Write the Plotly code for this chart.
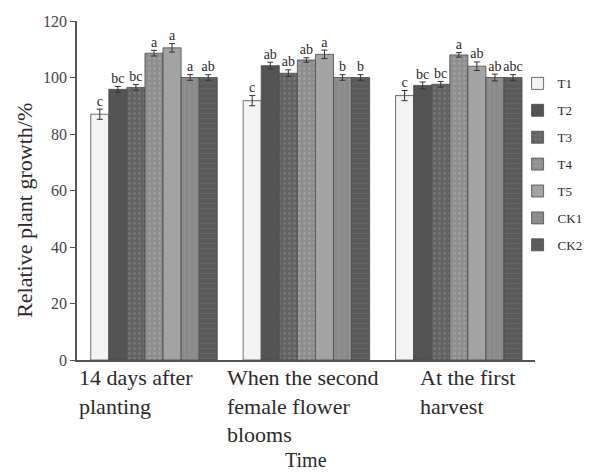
import plotly.graph_objects as go

# ---------------- data ----------------
categories = ["14 days after<br>planting",
              "When the second<br>female flower<br>blooms",
              "At the first<br>harvest"]
series_names = ["T1", "T2", "T3", "T4", "T5", "CK1", "CK2"]

T1 = [87.0, 91.8, 93.6]
T2 = [95.8, 104.2, 97.2]
T3 = [96.5, 101.5, 97.6]
T4 = [108.6, 106.2, 108.0]
T5 = [110.5, 108.2, 104.0]
CK1 = [100.0, 100.0, 100.0]
CK2 = [100.0, 100.0, 100.0]
values = [T1, T2, T3, T4, T5, CK1, CK2]

T1_err = [1.8, 1.8, 1.8]
T2_err = [1.0, 1.2, 1.2]
T3_err = [1.0, 1.2, 1.0]
T4_err = [1.0, 0.8, 0.8]
T5_err = [1.5, 1.5, 1.5]
CK1_err = [1.0, 1.0, 1.2]
CK2_err = [1.0, 1.0, 1.0]
errors = [T1_err, T2_err, T3_err, T4_err, T5_err, CK1_err, CK2_err]

T1_sig = ["c", "c", "c"]
T2_sig = ["bc", "ab", "bc"]
T3_sig = ["bc", "ab", "bc"]
T4_sig = ["a", "ab", "a"]
T5_sig = ["a", "a", "ab"]
CK1_sig = ["a", "b", "ab"]
CK2_sig = ["ab", "b", "abc"]
letters = [T1_sig, T2_sig, T3_sig, T4_sig, T5_sig, CK1_sig, CK2_sig]

y_ticks = [0, 20, 40, 60, 80, 100, 120]

# ---------------- style ----------------
fills = ["#f3f3f3", "#545454", "#636363", "#8e8e8e", "#a3a3a3", "#8a8a8a", "#5a5a5a"]
patterns = ["", "", ".", ".", "", "|", "-"]
pattern_fg = ["#ffffff", "#444444", "#888888", "#b0b0b0", "#b5b5b5", "#9a9a9a", "#707070"]
FONT = "Liberation Serif"
TXT = "#2a2a2a"

fig = go.Figure()
for i, name in enumerate(series_names):
    fig.add_trace(go.Bar(
        x=categories, y=values[i], name=name,
        offsetgroup=str(i), legendgroup=str(i),
        marker=dict(color=fills[i], line=dict(color="#4a4a4a", width=0.8),
                    pattern=dict(shape=patterns[i], fgcolor=pattern_fg[i],
                                 size=5, solidity=0.25)),
        error_y=dict(type="data", array=errors[i], color="#333333",
                     thickness=1, width=3),
    ))
for i, name in enumerate(series_names):
    fig.add_trace(go.Scatter(
        x=categories, y=[v + e for v, e in zip(values[i], errors[i])],
        mode="text", text=letters[i], textposition="top center",
        textfont=dict(family=FONT, size=14, color=TXT),
        offsetgroup=str(i), showlegend=False, hoverinfo="skip",
    ))

# category labels (left-aligned multi-line blocks under each group)
label_shift = [-18, -3, 9]
for i, c in enumerate(categories):
    fig.add_annotation(x=c, xref="x", y=0, yref="paper", yanchor="top",
                       xanchor="center", align="left", yshift=-3,
                       xshift=label_shift[i], text=c, showarrow=False,
                       font=dict(family=FONT, size=22, color=TXT))
fig.add_annotation(x=0.5, xref="paper", y=0, yref="paper", yanchor="middle",
                   yshift=-100, text="Time", showarrow=False,
                   font=dict(family=FONT, size=20, color=TXT))
fig.add_annotation(x=0, xref="paper", xanchor="center", xshift=-52,
                   y=0.44, yref="paper", yanchor="middle", textangle=-90,
                   text="Relative plant growth/%", showarrow=False,
                   font=dict(family=FONT, size=22, color=TXT))

fig.update_layout(
    width=590, height=473,
    margin=dict(l=77, r=55, t=21, b=113, autoexpand=False),
    paper_bgcolor="white", plot_bgcolor="white",
    barmode="group", bargap=0.17, bargroupgap=0.0,
    scattermode="group", scattergap=0.17,
    font=dict(family=FONT, color=TXT),
    showlegend=True,
    legend=dict(x=0.962, xanchor="left", y=0.86, yanchor="top",
                font=dict(family=FONT, size=13, color=TXT),
                traceorder="grouped", tracegroupgap=7,
                itemwidth=30, bgcolor="rgba(0,0,0,0)"),
    xaxis=dict(showticklabels=False, ticks="", showline=True,
               linecolor="#555555", linewidth=1.5, showgrid=False,
               zeroline=False, automargin=False),
    yaxis=dict(range=[0, 120], tickvals=y_ticks, ticks="outside", ticklen=5,
               tickcolor="#555555", showline=True, linecolor="#555555",
               linewidth=1.5, showgrid=False, zeroline=False, automargin=False,
               tickfont=dict(family=FONT, size=16, color="#444444")),
)

fig.write_html("out.html",
               config={"displayModeBar": False},
               post_script="document.body.style.margin='0';"
                           "document.body.style.padding='0';")
